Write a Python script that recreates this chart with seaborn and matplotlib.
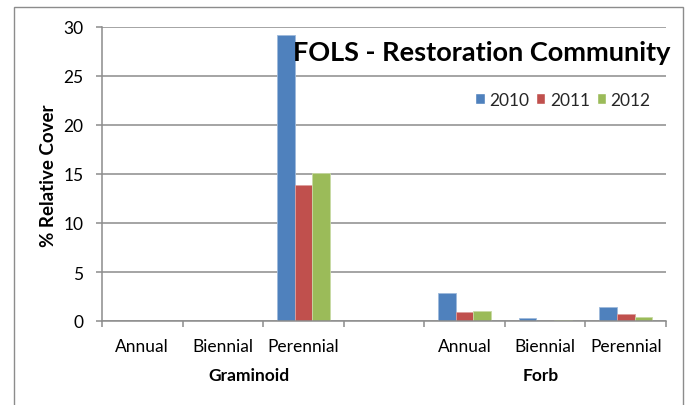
import numpy as np
import pandas as pd
import matplotlib
matplotlib.use("Agg")
import matplotlib.pyplot as plt
import matplotlib.transforms as mtransforms
from matplotlib.patches import Rectangle
import seaborn as sns

# Plant cover by life form and duration, three survey years
groups = ["Graminoid", "Forb"]
durations = ["Annual", "Biennial", "Perennial"]
years = ["2010", "2011", "2012"]

graminoid_2010 = [0.0, 0.0, 29.2]
graminoid_2011 = [0.0, 0.0, 13.9]
graminoid_2012 = [0.0, 0.0, 15.1]
forb_2010 = [2.9, 0.3, 1.47]
forb_2011 = [0.93, 0.0, 0.73]
forb_2012 = [1.03, 0.07, 0.38]

colors = ["#4F81BD", "#C0504D", "#9BBB59"]
grid_gray = "#8c8c8c"

values = {
    "Graminoid": [graminoid_2010, graminoid_2011, graminoid_2012],
    "Forb": [forb_2010, forb_2011, forb_2012],
}

rows = []
for g in groups:
    for yi, yr in enumerate(years):
        for di, d in enumerate(durations):
            rows.append({"slot": f"{g}|{d}", "year": yr, "cover": values[g][yi][di]})
df = pd.DataFrame(rows)

# a blank slot separates the two life-form groups
order = [f"Graminoid|{d}" for d in durations] + [" "] + [f"Forb|{d}" for d in durations]
tick_labels = durations + [""] + durations

sns.set_theme(style="white")
plt.rcParams["font.family"] = ["Lato", "DejaVu Sans"]

fig = plt.figure(figsize=(6.88, 4.06), dpi=100)
ax = fig.add_axes([102 / 688, 1 - 322 / 406, (666 - 102) / 688, (322 - 28) / 406])

sns.barplot(data=df, x="slot", y="cover", hue="year", order=order, hue_order=years,
            palette=dict(zip(years, colors)), width=0.66, saturation=1, gap=0,
            errorbar=None, ax=ax)

# thin light outline on each bar
for container in ax.containers:
    for bar in container:
        face = np.array(bar.get_facecolor()[:3])
        bar.set_edgecolor(tuple(face + (1 - face) * 0.45))
        bar.set_linewidth(0.6)

ax.set_xlim(-0.5, 6.5)
ax.set_ylim(0, 30)
ax.set_yticks(range(0, 31, 5))
ax.yaxis.grid(True, color=grid_gray, lw=1.1)
ax.set_axisbelow(True)
for side in ["top", "right"]:
    ax.spines[side].set_visible(False)
for side in ["left", "bottom"]:
    ax.spines[side].set_color(grid_gray)
    ax.spines[side].set_linewidth(1.1)

ax.set_xticks(range(len(order)))
ax.set_xticklabels(tick_labels)
ax.set_xticks(np.arange(-0.5, len(order), 1.0), minor=True)
ax.tick_params(axis="x", which="major", bottom=True, length=0, pad=12, labelsize=12.5, labelcolor="black")
ax.tick_params(axis="x", which="minor", bottom=True, length=4.5, width=1.1, color=grid_gray, direction="out")
ax.tick_params(axis="y", left=True, length=4.5, width=1.1, color=grid_gray, direction="out",
               pad=9, labelsize=12.5, labelcolor="black")
ax.set_xlabel("")
ax.set_ylabel("")

fig.text(49 / 688, 1 - 176 / 406, "% Relative Cover", rotation=90, ha="center", va="center",
         fontsize=13.5, fontweight="bold", color="black")

trans = mtransforms.blended_transform_factory(ax.transData, fig.transFigure)
ax.text(1.32, 1 - 376 / 406, "Graminoid", transform=trans, ha="center", va="center",
        fontsize=12.5, fontweight="bold", color="black")
ax.text(4.95, 1 - 376 / 406, "Forb", transform=trans, ha="center", va="center",
        fontsize=12.5, fontweight="bold", color="black")

fig.text(293 / 688, 1 - 61 / 406, "FOLS - Restoration Community", ha="left", va="baseline",
         fontsize=19.5, fontweight="bold", color="black")

handles, labels = ax.get_legend_handles_labels()
if ax.get_legend() is not None:
    ax.get_legend().remove()
fig.legend(handles, labels, loc="center left", bbox_to_anchor=(475 / 688, 1 - 101 / 406),
           ncol=3, frameon=False, handlelength=0.55, handleheight=0.6, handletextpad=0.25,
           columnspacing=0.4, fontsize=12.5, borderpad=0, borderaxespad=0)

fig.patches.append(Rectangle((13.5 / 688, -0.1), (683 - 13.5) / 688, 1.1 - 7.5 / 406,
                             transform=fig.transFigure, fill=False, edgecolor=grid_gray, lw=1.0))

fig.savefig("out.png", dpi=100)
